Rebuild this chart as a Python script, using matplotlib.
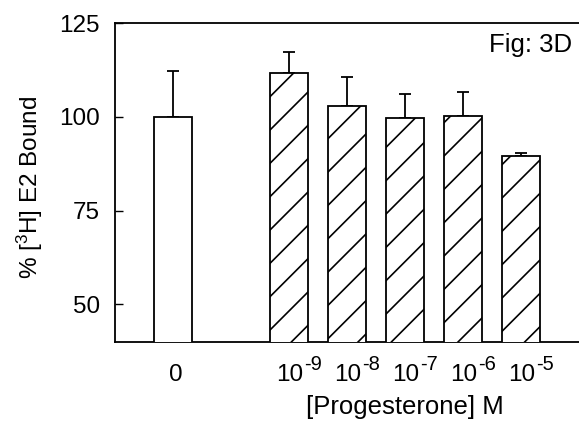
import matplotlib
matplotlib.use("Agg")
import matplotlib.pyplot as plt

plt.rcParams['font.family'] = ['Liberation Sans', 'DejaVu Sans']
plt.rcParams['mathtext.fontset'] = 'custom'
plt.rcParams['mathtext.rm'] = 'Liberation Sans'
plt.rcParams['mathtext.it'] = 'Liberation Sans'
plt.rcParams['mathtext.bf'] = 'Liberation Sans'
plt.rcParams['hatch.linewidth'] = 1.2

# data
positions = [0, 2, 3, 4, 5, 6]
label_base = ['0', '10', '10', '10', '10', '10']
label_exp = ['', '-9', '-8', '-7', '-6', '-5']
values = [100.0, 111.7, 102.9, 99.7, 100.3, 89.6]
errors = [12.2, 5.6, 7.7, 6.3, 6.3, 0.7]
hatches = ['', '/', '/', '/', '/', '/']
yticks = [50, 75, 100, 125]

fig = plt.figure(figsize=(5.79, 4.22), dpi=100)
ax = fig.add_axes([115/579, 80/422, 464/579, 319/422])

for x, v, h in zip(positions, values, hatches):
    ax.bar(x, v, width=0.67, color='white', edgecolor='black', linewidth=1.3,
           hatch=h, zorder=3)
ax.errorbar(positions, values, yerr=[[0]*len(errors), errors], fmt='none',
            ecolor='black', elinewidth=1.3, capsize=4.5, capthick=1.3, zorder=2)

ax.set_xlim(-1, 7)
ax.set_ylim(40, 125)
ax.set_yticks(yticks)
ax.set_yticklabels([str(t) for t in yticks])
ax.tick_params(axis='y', direction='in', length=6, width=1.0, labelsize=17.5, pad=11)
ax.set_xticks([])
for s in ['left', 'top', 'bottom']:
    ax.spines[s].set_linewidth(1.3)
ax.spines['right'].set_visible(False)

for x, base, exp in zip(positions, label_base, label_exp):
    dx = 3 if exp == '' else 1
    ax.annotate(base, xy=(x, 0), xycoords=('data', 'axes fraction'),
                xytext=(dx, -39), textcoords='offset pixels',
                ha='center', va='baseline', fontsize=17.5)
    if exp:
        ax.annotate(exp, xy=(x, 0), xycoords=('data', 'axes fraction'),
                    xytext=(dx + 14, -28), textcoords='offset pixels',
                    ha='left', va='baseline', fontsize=14.5)

ax.annotate('[Progesterone] M', xy=(4, 0), xycoords=('data', 'axes fraction'),
            xytext=(0, -72), textcoords='offset pixels',
            ha='center', va='baseline', fontsize=18.5)

fig.text(30/579, 0.5 + (422/2 - 187)/422, r'% [$\mathregular{^{3}}$H] E2 Bound',
         rotation=90, ha='center', va='center', fontsize=17.5)

fig.text(572/579, 1 - 45/422, 'Fig: 3D', ha='right', va='center', fontsize=18.5)

fig.savefig('out.png', dpi=100)
